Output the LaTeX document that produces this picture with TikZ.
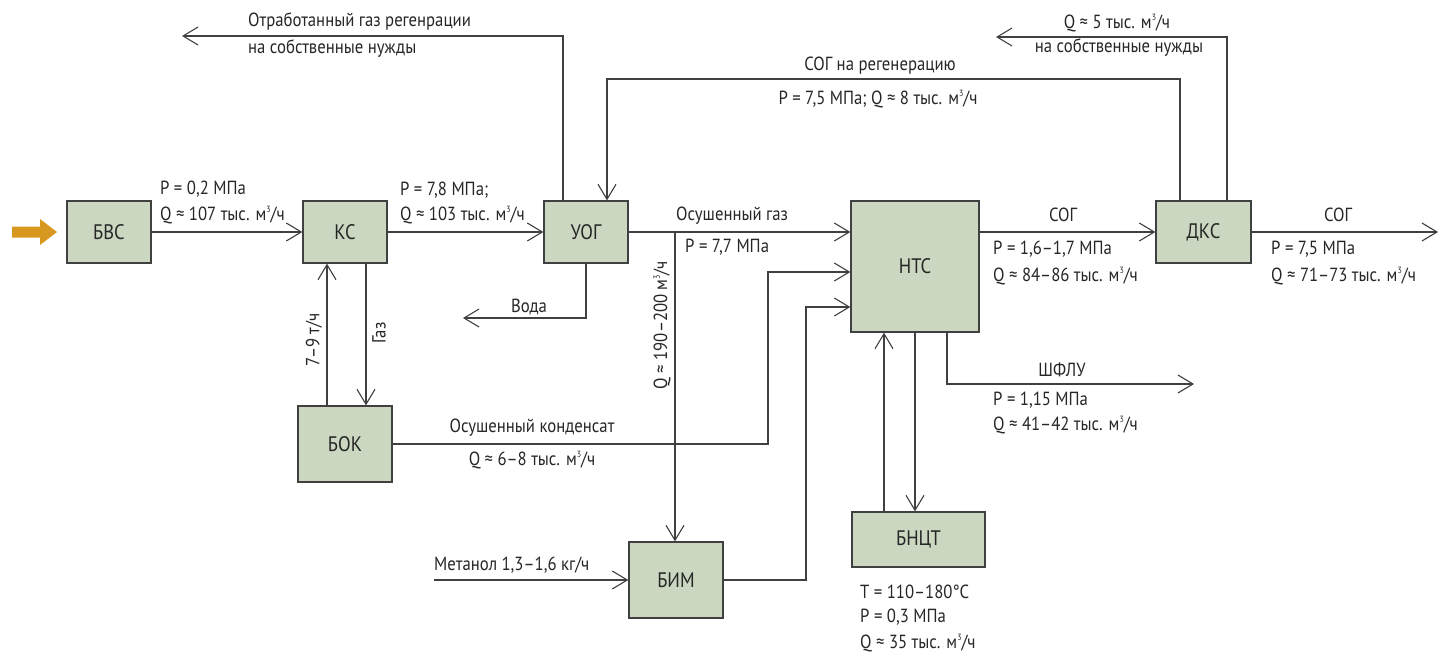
\documentclass[tikz,border=0pt]{standalone}
\usepackage{fontspec}
\setmainfont{PT Sans}[FakeStretch=0.88]
\usetikzlibrary{arrows.meta}
\definecolor{boxfill}{HTML}{CBD7C0}
\definecolor{linec}{HTML}{404040}
\definecolor{orng}{HTML}{D8981F}
\newcommand{\mcub}{м\raisebox{0.75ex}{\fontsize{9}{9}\selectfont 3}/ч}
\begin{document}
\begin{tikzpicture}[x=1pt,y=-1pt,
 blk/.style={draw=linec, fill=boxfill, line width=1.3pt, inner sep=0, font=\fontsize{21}{23}\selectfont, text=black!85},
 flow/.style={draw=linec, line width=1.1pt, -{Straight Barb[length=15pt,width=18pt,line width=1.1pt]}},
 lbl/.style={inner sep=0, font=\fontsize{19}{22}\selectfont, text=black!85}]
\useasboundingbox (0,0) rectangle (1438,653);

% blocks
\node[blk, minimum width=84pt, minimum height=62pt] (bvs) at (109,232) {БВС};
\node[blk, minimum width=84pt, minimum height=62pt] (ks) at (345,232) {КС};
\node[blk, minimum width=84pt, minimum height=62pt] (uog) at (586,232) {УОГ};
\node[blk, minimum width=128pt, minimum height=131pt] (nts) at (915,266.5) {НТС};
\node[blk, minimum width=95pt, minimum height=62pt] (dks) at (1203.5,232) {ДКС};
\node[blk, minimum width=94pt, minimum height=76pt] (bok) at (345,444) {БОК};
\node[blk, minimum width=94pt, minimum height=76pt] (bim) at (676,580) {БИМ};
\node[blk, minimum width=133pt, minimum height=55pt] (bnct) at (918.5,539.5) {БНЦТ};

% input arrow
\fill[orng] (12,226.5) -- (40,226.5) -- (40,219) -- (57,232) -- (40,245) -- (40,237.5) -- (12,237.5) -- cycle;

% free-end coordinates
\coordinate (voda) at (463,318);
\coordinate (otr) at (182,36);
\coordinate (r1) at (607,79);
\coordinate (sn) at (996,37);
\coordinate (out) at (1438,232);
\coordinate (k1) at (768,272);
\coordinate (k2) at (806,307);
\coordinate (met) at (434,580);
\coordinate (shflu) at (1194,384);
\coordinate (jq) at (675,232);

% connectors
\draw[flow] (bvs.east) -- (ks.west);
\draw[flow] (ks.east) -- (uog.west);
\draw[flow] (uog.east) -- (uog.east -| nts.west);
\draw[flow] ([xshift=-18pt]bok.north) -- ([xshift=-18pt]ks.south);
\draw[flow] ([xshift=21pt]ks.south) -- ([xshift=21pt]bok.north);
\draw[flow] (uog.south) |- (voda);
\draw[flow] ([xshift=-23pt]uog.north) |- (otr);
\draw[flow] ([xshift=-23.5pt]dks.north) |- (r1) -- ([xshift=21pt]uog.north);
\draw[flow] ([xshift=23.5pt]dks.north) |- (sn);
\draw[flow] (dks.east) -- (out);
\draw[flow] (dks.west -| nts.east) -- (dks.west);
\draw[flow] (bok.east) -| (k1) -- (k1 -| nts.west);
\draw[flow] (bim.east) -| (k2) -- (k2 -| nts.west);
\draw[flow] (jq) -- (jq |- bim.north);
\draw[flow] (met) -- (bim.west);
\draw[flow] ([xshift=-34.5pt]bnct.north) -- ([xshift=-34.5pt]bnct.north |- nts.south);
\draw[flow] (nts.south) -- (nts.south |- bnct.north);
\draw[flow] ([xshift=32pt]nts.south) |- (shflu);

% labels
\node[lbl, anchor=west] (l1) at (160,189) {P = 0,2 МПа};
\node[lbl, anchor=west] (l2) at (160,215) {Q ≈ 107 тыс. \mcub};
\node[lbl, anchor=west] (l3) at (400,190) {P = 7,8 МПа;};
\node[lbl, anchor=west] (l4) at (400,215) {Q ≈ 103 тыс. \mcub};
\node[lbl, anchor=west] (l5) at (676,216) {Осушенный газ};
\node[lbl, anchor=west] (l6) at (685,247) {P = 7,7 МПа};
\node[lbl] (l7) at (529,307) {Вода};
\node[lbl, rotate=90] (l8) at (314,340) {7–9 т/ч};
\node[lbl, rotate=90] (l9) at (379,333) {Газ};
\node[lbl, rotate=90] (l10) at (662,325) {Q ≈ 190–200 \mcub};
\node[lbl] (l11) at (532,428) {Осушенный конденсат};
\node[lbl] (l12) at (532,460) {Q ≈ 6–8 тыс. \mcub};
\node[lbl, anchor=west] (l13) at (434,565) {Метанол 1,3–1,6 кг/ч};
\node[lbl, anchor=west] (l14) at (248,22) {Отработанный газ регенрации};
\node[lbl, anchor=west] (l15) at (248,49) {на собственные нужды};
\node[lbl] (l16) at (880,66) {СОГ на регенерацию};
\node[lbl] (l17) at (878,99) {P = 7,5 МПа; Q ≈ 8 тыс. \mcub};
\node[lbl] (l18) at (1117,23) {Q ≈ 5 тыс. \mcub};
\node[lbl] (l19) at (1119,48) {на собственные нужды};
\node[lbl] (l20) at (1063,215) {СОГ};
\node[lbl, anchor=west] (l21) at (993,249) {P = 1,6–1,7 МПа};
\node[lbl, anchor=west] (l22) at (993,276) {Q ≈ 84–86 тыс. \mcub};
\node[lbl] (l23) at (1338,215) {СОГ};
\node[lbl, anchor=west] (l24) at (1271,249) {P = 7,5 МПа};
\node[lbl, anchor=west] (l25) at (1271,276) {Q ≈ 71–73 тыс. \mcub};
\node[lbl] (l26) at (1062,370) {ШФЛУ};
\node[lbl, anchor=west] (l27) at (993,400) {P = 1,15 МПа};
\node[lbl, anchor=west] (l28) at (993,425) {Q ≈ 41–42 тыс. \mcub};
\node[lbl, anchor=west] (l29) at (860,592) {Т = 110–180°C};
\node[lbl, anchor=west] (l30) at (860,617) {P = 0,3 МПа};
\node[lbl, anchor=west] (l31) at (860,643) {Q ≈ 35 тыс. \mcub};
\end{tikzpicture}
\end{document}
